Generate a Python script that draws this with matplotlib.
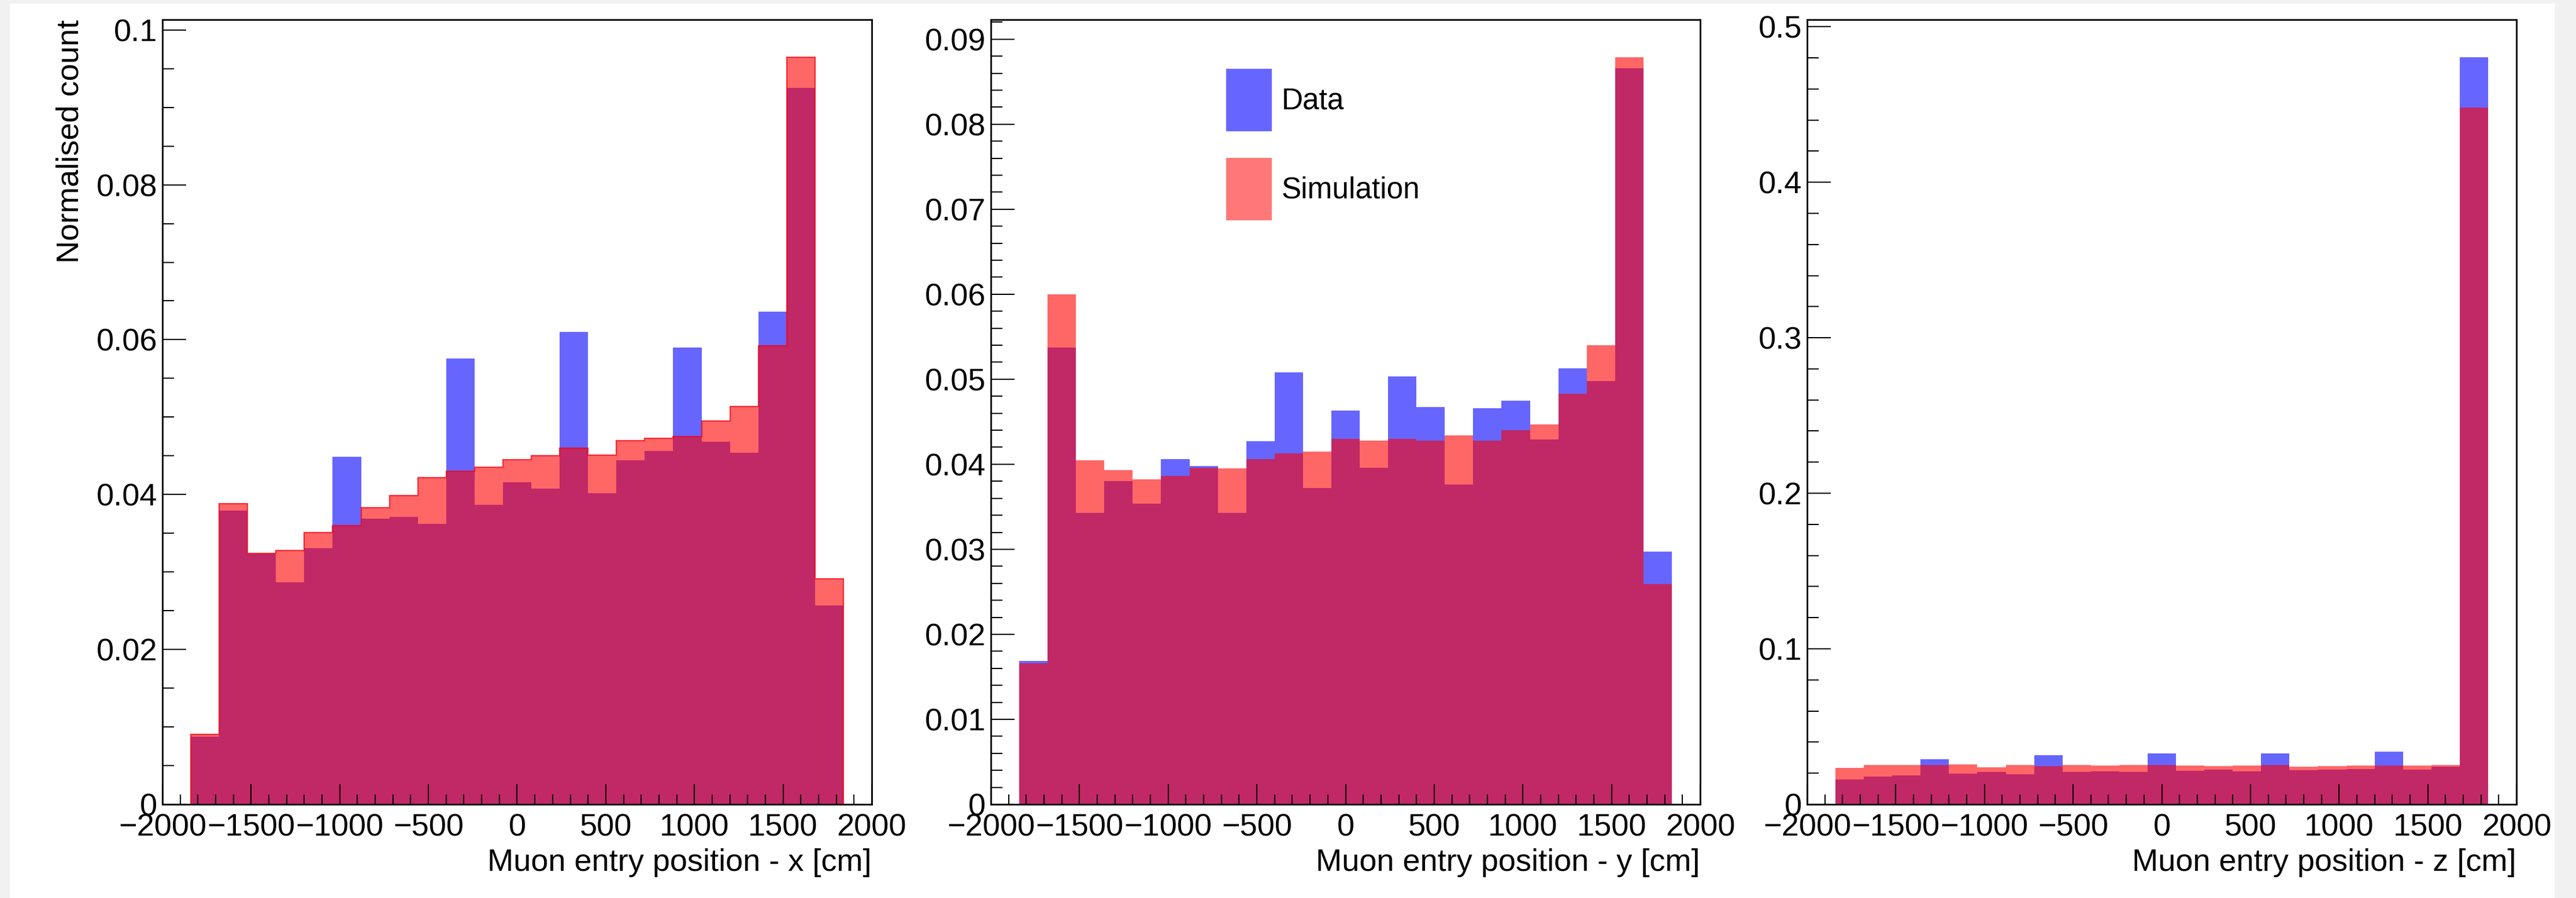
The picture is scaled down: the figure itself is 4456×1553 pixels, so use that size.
"""
Muon entry position: data vs simulation (x, y, z), ROOT-like look.
"""
import matplotlib
matplotlib.use("Agg")
import matplotlib.pyplot as plt
import matplotlib.ticker as mtick
from matplotlib.patches import Patch, Rectangle
import numpy as np

# --- Data (normalised counts, 23 bins from -1840 to 1840 cm) ---
N_BINS = 23
X_MIN, X_MAX = -1840, 1840

data_x = [0.0087, 0.0379, 0.0323, 0.0287, 0.0331, 0.0449, 0.0369, 0.0371,
          0.0362, 0.0576, 0.0387, 0.0416, 0.0408, 0.0610, 0.0402, 0.0444,
          0.0456, 0.0590, 0.0468, 0.0454, 0.0636, 0.0925, 0.0257]
sim_x = [0.0090, 0.0388, 0.0324, 0.0328, 0.0351, 0.0360, 0.0383, 0.0399,
         0.0422, 0.0430, 0.0435, 0.0445, 0.0450, 0.0460, 0.0451, 0.0470,
         0.0473, 0.0475, 0.0495, 0.0514, 0.0592, 0.0965, 0.0291]

data_y = [0.0169, 0.0537, 0.0343, 0.0380, 0.0354, 0.0406, 0.0398, 0.0343,
          0.0427, 0.0508, 0.0372, 0.0463, 0.0396, 0.0503, 0.0467, 0.0376,
          0.0466, 0.0475, 0.0429, 0.0513, 0.0498, 0.0866, 0.0297]
sim_y = [0.0166, 0.0600, 0.0405, 0.0393, 0.0382, 0.0386, 0.0396, 0.0395,
         0.0406, 0.0413, 0.0415, 0.0430, 0.0428, 0.0430, 0.0428, 0.0434,
         0.0428, 0.0440, 0.0447, 0.0483, 0.0540, 0.0879, 0.0259]

data_z = [0.0159, 0.0180, 0.0185, 0.0290, 0.0198, 0.0210, 0.0195, 0.0315,
          0.0207, 0.0212, 0.0210, 0.0326, 0.0215, 0.0223, 0.0212, 0.0326,
          0.0220, 0.0222, 0.0226, 0.0339, 0.0223, 0.0241, 0.4805]
sim_z = [0.0236, 0.0251, 0.0251, 0.0251, 0.0256, 0.0239, 0.0251, 0.0246,
         0.0251, 0.0248, 0.0254, 0.0252, 0.0248, 0.0246, 0.0248, 0.0252,
         0.0241, 0.0247, 0.0248, 0.0249, 0.0248, 0.0251, 0.4480]

axis_names = ["x", "y", "z"]
y_major = [0.02, 0.01, 0.1]
y_minor = [0.005, 0.002, 0.02]

# --- Style ---
C_DATA = (0.0, 0.0, 1.0, 0.6)
C_SIM = (1.0, 0.0, 0.0, 0.6)
C_BG = "#f1f1f1"
FS = 39

plt.rcParams.update({
    "font.family": ["Liberation Sans", "DejaVu Sans"],
    "font.size": FS,
    "axes.linewidth": 2.0,
})

W, H = 4456, 1553
fig = plt.figure(figsize=(W / 100, H / 100), dpi=100, facecolor=C_BG)
fig.patches.append(Rectangle((17 / W, 0), (4419 - 17) / W, (H - 6) / H,
                             transform=fig.transFigure, facecolor="white",
                             edgecolor="none", zorder=-10))

lefts = [281, 1714, 3126]
ax_w, ax_h = 1227, 1357
ax_bottom = H - 1391

edges = np.linspace(X_MIN, X_MAX, N_BINS + 1)
centers = 0.5 * (edges[:-1] + edges[1:])

panels = [(data_x, sim_x), (data_y, sim_y), (data_z, sim_z)]
axes = []
for i, (dat, sim) in enumerate(panels):
    ax = fig.add_axes([lefts[i] / W, ax_bottom / H, ax_w / W, ax_h / H])
    axes.append(ax)

    ax.hist(centers, bins=edges, weights=dat, histtype="stepfilled",
            color=C_DATA, linewidth=0)
    ax.hist(centers, bins=edges, weights=sim, histtype="stepfilled",
            color=C_SIM, linewidth=0)
    if i == 0:
        # red outline on the first panel
        ax.hist(centers, bins=edges, weights=sim, histtype="step",
                color=(0.95, 0.0, 0.05, 0.75), linewidth=1.6)

    ymax = max(max(dat), max(sim)) * 1.05
    ax.set_xlim(-2000, 2000)
    ax.set_ylim(0, ymax)

    ax.xaxis.set_major_locator(mtick.MultipleLocator(500))
    ax.xaxis.set_minor_locator(mtick.MultipleLocator(100))
    ax.yaxis.set_major_locator(mtick.MultipleLocator(y_major[i]))
    ax.yaxis.set_minor_locator(mtick.MultipleLocator(y_minor[i]))
    ax.yaxis.set_major_formatter(mtick.FuncFormatter(lambda v, p: f"{v:g}"))

    ax.tick_params(axis="both", which="both", direction="in",
                   top=False, right=False, width=1.5, labelsize=FS)
    ax.tick_params(axis="y", which="major", length=29.5, pad=6.5)
    ax.tick_params(axis="y", which="minor", length=14.5)
    ax.tick_params(axis="x", which="major", length=25, pad=11.5)
    ax.tick_params(axis="x", which="minor", length=12.5)

    ax.set_xlabel(f"Muon entry position - {axis_names[i]} [cm]", fontsize=FS)
    ax.xaxis.label.set_ha("right")
    ax.xaxis.label.set_va("baseline")
    ax.xaxis.set_label_coords(1.0, -(1506 - 1391) / ax_h)

axes[0].set_ylabel("Normalised count", fontsize=FS)
axes[0].yaxis.label.set_ha("right")
axes[0].yaxis.label.set_va("baseline")
axes[0].yaxis.set_label_coords((135 - 281) / ax_w, 1.0)

handles = [Patch(facecolor=C_DATA, edgecolor="none", label="Data"),
           Patch(facecolor=(1.0, 0.0, 0.0, 0.53), edgecolor="none",
                 label="Simulation")]
axes[1].legend(handles=handles, loc="upper left", frameon=False,
               bbox_to_anchor=((2121 - 1714) / ax_w, (1391 - 119) / ax_h),
               borderaxespad=0, borderpad=0, fontsize=37,
               handlelength=1.54, handleheight=2.85, labelspacing=0.9,
               handletextpad=0.33)

fig.savefig("out.png", dpi=100, facecolor=fig.get_facecolor())
